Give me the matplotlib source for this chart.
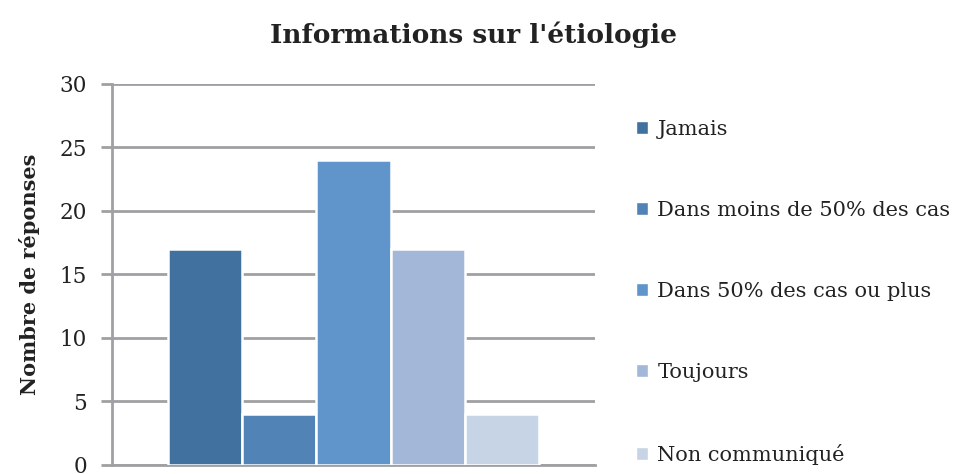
import numpy as np
import matplotlib.pyplot as plt
from matplotlib.patches import Patch

# Data
categories = ['Jamais', 'Dans moins de 50% des cas', 'Dans 50% des cas ou plus',
              'Toujours', 'Non communiqué']
values = [17, 4, 24, 17, 4]
colors = ['#41729F', '#5283B7', '#5F95CA', '#A3B8D9', '#C7D4E6']

plt.rcParams['font.family'] = ['DejaVu Serif']

fig = plt.figure(figsize=(9.71, 4.74), dpi=100)
ax = fig.add_axes([0.1153, 0.019, 0.4975, 0.8038])

# One category, five series side by side
n = len(values)
width = 0.768 / n
x = (np.arange(n) - (n - 1) / 2) * width
ax.bar(x, values, width=width, color=colors, edgecolor='white', linewidth=1.8, zorder=3)

ax.set_xlim(-0.5, 0.5)
ax.set_ylim(0, 30)
ax.set_yticks(range(0, 31, 5))
ax.set_xticks([])
ax.yaxis.grid(True, color='#A0A0A4', linewidth=2, zorder=0)
ax.tick_params(axis='y', length=8, width=2, color='#A0A0A4', labelsize=15.5,
               labelcolor='#222222', pad=10)
for side in ['top', 'right']:
    ax.spines[side].set_visible(False)
for side in ['left', 'bottom']:
    ax.spines[side].set_color('#A0A0A4')
    ax.spines[side].set_linewidth(2)

ax.set_ylabel('Nombre de réponses', fontsize=15, fontweight='bold', labelpad=14,
              color='#222222')
fig.suptitle("Informations sur l'étiologie", fontsize=19, fontweight='bold',
             x=0.488, y=0.955, color='#222222')

handles = [Patch(facecolor=c, edgecolor='white') for c in colors]
fig.legend(handles, categories, loc='upper left', bbox_to_anchor=(0.646, 0.765),
           frameon=False, fontsize=15, handlelength=0.6, handleheight=0.6,
           handletextpad=0.45, labelspacing=2.98, borderaxespad=0,
           labelcolor='#222222')

fig.savefig('out.png', dpi=100)
